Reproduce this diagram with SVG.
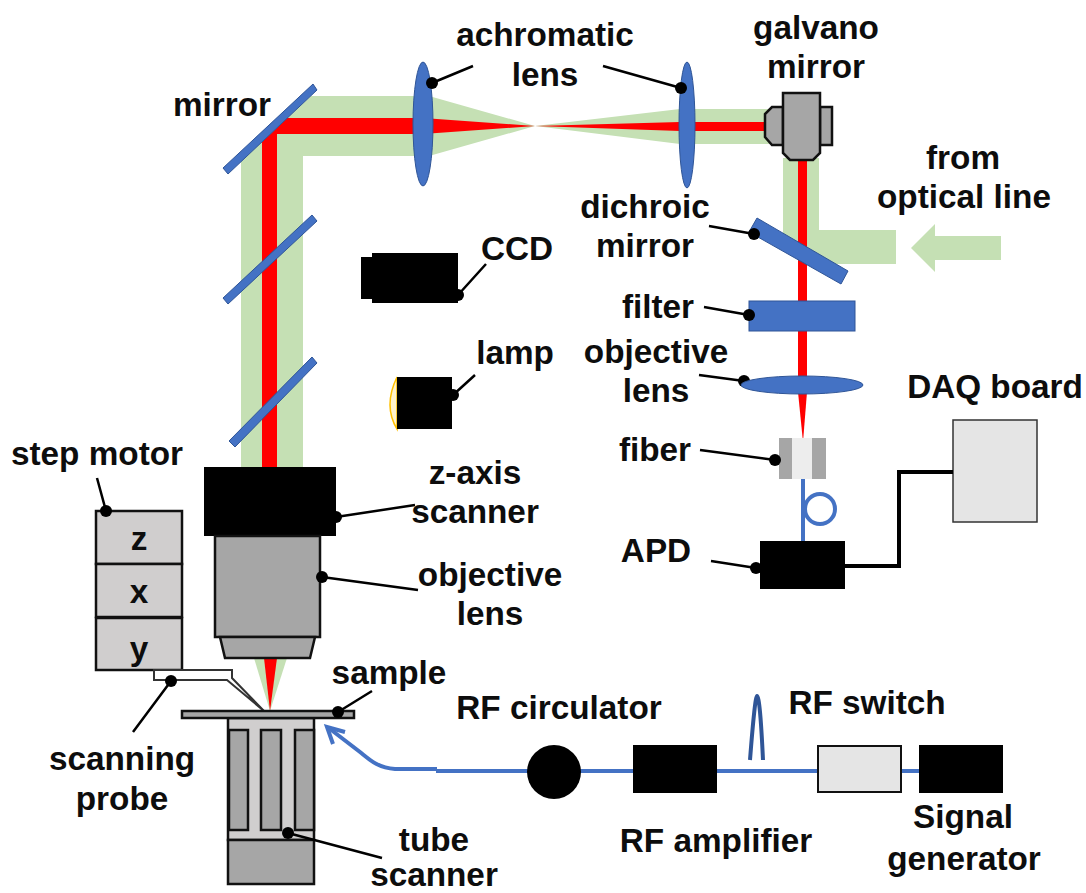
<svg xmlns="http://www.w3.org/2000/svg" width="1086" height="893" viewBox="0 0 1086 893">
<style>
text{font-family:"Liberation Sans",Arial,sans-serif;font-weight:700;font-size:33.3px;fill:#0d0d0d;text-anchor:middle}
.g{fill:#c5e0b4}.r{fill:#f00}.b{fill:#4472c4;stroke:#2f5597;stroke-width:1}
.k{fill:#000}.d{fill:#a6a6a6;stroke:#111;stroke-width:2.5}.l{fill:#d0cece;stroke:#111;stroke-width:2.5}
.lead{fill:none;stroke:#000;stroke-width:2.5}
.w{fill:none;stroke:#4472c4;stroke-width:4}
</style>
<g id="beams">
<path class="g" d="M241 468V160L311 96H429L535 126L429 156H303V468Z"/>
<path class="g" d="M535 126L680 109H783V144H680Z"/>
<path class="g" d="M783 158H819V230H896V264H826L783 238Z"/>
<path class="r" d="M262 468V142L287 118H423L535 126L423 134H277V468Z"/>
<path class="r" d="M535 126L680 122H770V131H680Z"/>
<rect class="r" x="798" y="158" width="9" height="225"/>
<path class="r" d="M798 392H807L803 442Z"/>
<path class="g" d="M254 658H287L270 711Z"/>
<path class="r" d="M264 658H277L270 711Z"/>
<path class="g" d="M911 248L935 224V236H1001V260H935V272Z"/>
</g>
<g id="mirror"><path class="b" d="M313 84L317 90L228 174L223 168Z"/></g>
<g id="beam-splitter-1"><path class="b" d="M312 215L317 221L228 304L223 298Z"/></g>
<g id="beam-splitter-2"><path class="b" d="M312 357L317 363L235 447L229 441Z"/></g>
<g id="achromatic-lens-1"><ellipse class="b" cx="423" cy="124" rx="10" ry="62"/></g>
<g id="achromatic-lens-2"><ellipse class="b" cx="687" cy="125" rx="8" ry="63"/></g>
<g id="galvano-mirror">
<path class="d" d="M820 107H832V145H820Z"/>
<path class="d" d="M783 107H772L765 114V137L772 145H783Z"/>
<path class="d" d="M783 93H820V153L813 160H790L783 153Z"/>
</g>
<g id="dichroic-mirror"><path class="b" d="M757 218L848 271L841 284L749 232Z"/></g>
<g id="filter"><rect class="b" x="749" y="301" width="106" height="30"/></g>
<g id="fiber">
<rect x="779" y="438" width="47" height="41" fill="#ededed"/>
<rect x="779" y="438" width="13" height="41" fill="#a6a6a6"/>
<rect x="812" y="438" width="14" height="41" fill="#a6a6a6"/>
<path class="w" d="M803 479V541"/>
<circle class="w" cx="820" cy="509" r="15"/>
</g>
<g id="apd"><rect class="k" x="760" y="541" width="85" height="48"/></g>
<g id="daq-board"><rect x="953" y="420" width="84" height="102" fill="#e5e5e5" stroke="#333" stroke-width="1.5"/></g>
<g id="ccd"><rect class="k" x="361" y="257" width="14" height="42"/><rect class="k" x="372" y="253" width="86" height="50"/></g>
<g id="lamp"><path d="M397 377Q383 406 397 429Z" fill="#fff2cc" stroke="#ffc000" stroke-width="1.5"/><rect class="k" x="397" y="377" width="55" height="52"/></g>
<g id="z-axis-scanner"><rect class="k" x="204" y="467" width="132" height="69"/></g>
<g id="objective-lens">
<rect class="d" x="215" y="536" width="105" height="101"/>
<path class="d" d="M220 637H315L310 658H225Z"/>
</g>
<g id="step-motor">
<rect class="l" x="96" y="511" width="86" height="53"/>
<rect class="l" x="96" y="564" width="86" height="53"/>
<rect class="l" x="96" y="618" width="86" height="52"/>
</g>
<g id="scanning-probe"><path d="M154 670H232V678L264 711L227 680H154Z" fill="#fff" stroke="#333" stroke-width="2"/></g>
<g id="tube-scanner">
<rect class="l" x="228" y="718" width="86" height="122"/>
<rect class="d" x="229" y="730" width="19" height="100"/>
<rect class="d" x="261" y="730" width="20" height="100"/>
<rect class="d" x="295" y="730" width="19" height="100"/>
<rect class="d" x="228" y="840" width="86" height="44"/>
</g>
<g id="sample"><rect class="d" x="182" y="711" width="172" height="7"/></g>
<g id="connectors">
<path class="w" d="M919 771H436"/>
<path class="w" d="M437 769H395C378 768 370 760 360 752L330 729"/>
<path class="w" d="M345 732L327 727L333 744"/>
<path d="M750 760Q755 696 757 696Q760 696 763 760" fill="none" stroke="#2f5597" stroke-width="4"/>
<path d="M845 566H899V472H953" fill="none" stroke="#000" stroke-width="4"/>
<path class="lead" d="M432 83L473 66M681 88L603 66M458 295L486 264M453 395L475 375M754 234L709 226M749 315L704 307M744 381L699 375M775 460L700 450M756 568L711 561M106 511L97 478M336 517L415 505M322 577L418 590M171 681L133 732M338 712L372 691M288 833L382 858"/>
<g class="k">
<circle cx="432" cy="83" r="6"/><circle cx="681" cy="88" r="6"/><circle cx="458" cy="295" r="6"/><circle cx="453" cy="395" r="6"/><circle cx="754" cy="234" r="6"/><circle cx="749" cy="315" r="6"/><circle cx="744" cy="381" r="6"/><circle cx="775" cy="460" r="6"/><circle cx="756" cy="568" r="6"/><circle cx="106" cy="511" r="6"/><circle cx="336" cy="517" r="6"/><circle cx="322" cy="577" r="6"/><circle cx="171" cy="681" r="6"/><circle cx="338" cy="712" r="6"/><circle cx="288" cy="833" r="6"/>
</g>
</g>
<g id="objective-lens-top"><ellipse class="b" cx="802" cy="385" rx="61" ry="9"/></g>
<g id="rf-circulator"><circle class="k" cx="554" cy="772" r="27"/></g>
<g id="rf-amplifier"><rect class="k" x="633" y="745" width="84" height="48"/></g>
<g id="rf-switch"><rect x="818" y="746" width="83" height="46" fill="#e5e5e5" stroke="#111" stroke-width="2"/></g>
<g id="signal-generator"><rect class="k" x="919" y="745" width="84" height="48"/></g>
<g id="labels">
<text x="545" y="46">achromatic</text><text x="545" y="86">lens</text>
<text x="816" y="39">galvano</text><text x="816" y="78">mirror</text>
<text x="222" y="116">mirror</text>
<text x="963" y="169">from</text><text x="964" y="208">optical line</text>
<text x="645" y="218">dichroic</text><text x="645" y="257">mirror</text>
<text x="517" y="260">CCD</text>
<text x="515" y="364">lamp</text>
<text x="658" y="318">filter</text>
<text x="656" y="363">objective</text><text x="656" y="402">lens</text>
<text x="655" y="461">fiber</text>
<text x="995" y="398">DAQ board</text>
<text x="656" y="562">APD</text>
<text x="97" y="465">step motor</text>
<text x="139" y="550">z</text><text x="139" y="603">x</text><text x="139" y="660">y</text>
<text x="475" y="484">z-axis</text><text x="475" y="523">scanner</text>
<text x="490" y="586">objective</text><text x="490" y="625">lens</text>
<text x="389" y="684">sample</text>
<text x="559" y="719">RF circulator</text>
<text x="867" y="714">RF switch</text>
<text x="122" y="770">scanning</text><text x="122" y="810">probe</text>
<text x="434" y="851">tube</text><text x="434" y="886">scanner</text>
<text x="716" y="852">RF amplifier</text>
<text x="963" y="828">Signal</text><text x="964" y="870">generator</text>
</g>
</svg>
